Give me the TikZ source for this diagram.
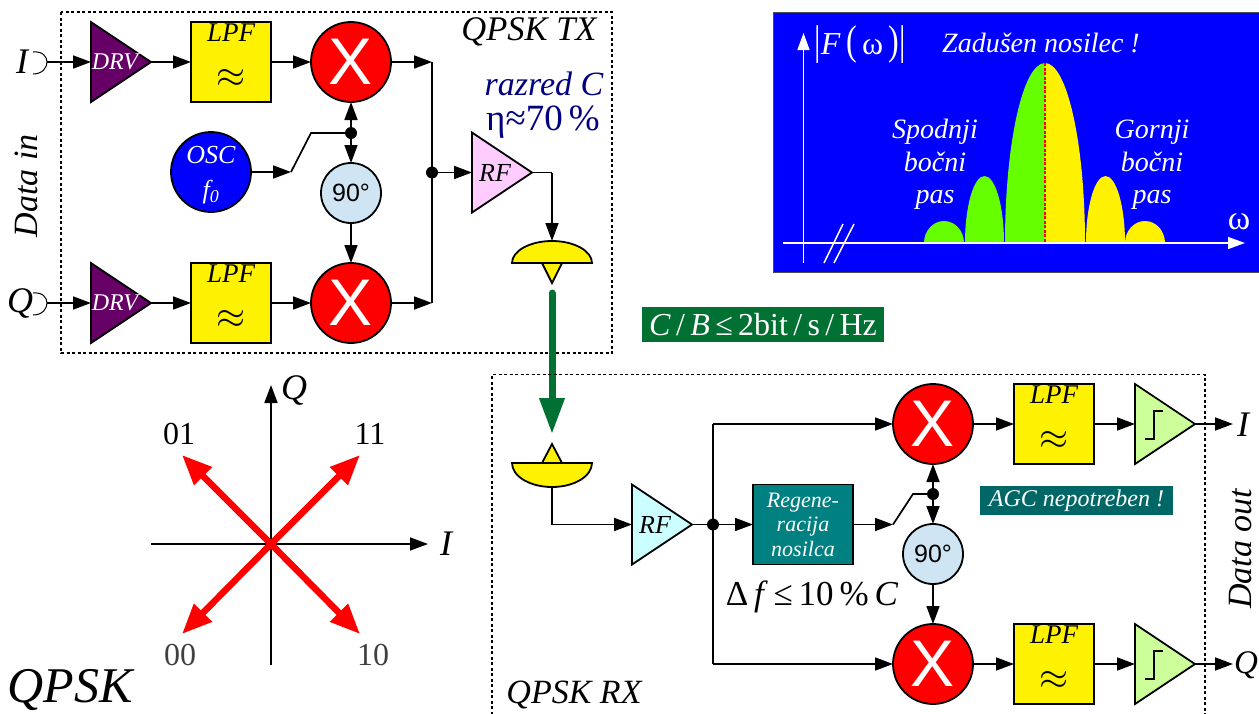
\documentclass[tikz,border=0pt]{standalone}
\usepackage{fontspec}
\setmainfont{Liberation Serif}
\setsansfont{Liberation Sans}
\usetikzlibrary{arrows.meta,shapes.geometric}
\definecolor{drvc}{HTML}{660066}
\definecolor{pinkc}{HTML}{FFCCFF}
\definecolor{cyanc}{HTML}{CCFFFF}
\definecolor{compc}{HTML}{CCFF99}
\definecolor{phasec}{HTML}{CFE5F3}
\definecolor{regenc}{HTML}{008080}
\definecolor{agcc}{HTML}{006666}
\definecolor{lobeg}{HTML}{66FF00}
\definecolor{chanc}{HTML}{007033}
\definecolor{navyc}{HTML}{000080}
\newcommand{\fs}[1]{\fontsize{#1}{#1}\selectfont}
\newcommand{\tallbar}[1]{\scalebox{1}[1.3]{#1}}
\tikzset{
  x=1pt,y=-1pt,
  outline/.style={draw=black,line width=1.8pt,inner sep=0pt,outer sep=0pt},
  tri/.style={outline,isosceles triangle,isosceles triangle apex angle=60,isosceles triangle stretches=true,
    minimum width=80pt,minimum height=60pt,anchor=lower side},
  lpfbox/.style={outline,fill=yellow,minimum size=80pt},
  mixer/.style={outline,circle,fill=red,minimum size=80pt,text=white,font=\sffamily\fs{66}},
  phase/.style={outline,circle,fill=phasec,minimum size=60pt,font=\sffamily\fs{25}},
  dot/.style={circle,fill=black,inner sep=0pt,minimum size=12pt},
  conn/.style={line width=1.7pt,-{Triangle[length=18pt,width=13pt]}},
  wire/.style={line width=1.7pt},
  dashbox/.style={line width=1.3pt,dash pattern=on 3pt off 2.5pt},
  it/.style={font=\itshape\fs{#1},inner sep=0pt},
  it/.default=26,
  rm/.style={font=\fs{#1},inner sep=0pt},
  redarrow/.style={red,line width=6.5pt,-{Triangle[length=30pt,width=24pt]}},
  spectxt/.style={white,font=\itshape\fs{28},inner sep=0pt,align=center},
  specline/.style={spectxt,anchor=base},
}
\newcommand{\lpf}[3]{%
  \node[lpfbox] (#1) at (#2,#3) {};
  \node[it=27] (#1t) at (#2,#3-29) {LPF};
  \node[inner sep=0pt,font=\fs{24}] (#1s) at (#2,#3+16) {\scalebox{1.5}{\(\approx\)}};
}
\begin{document}
\begin{tikzpicture}
\useasboundingbox (0,0) rectangle (1259,713);
\clip (0,0) rectangle (1259,713);

% --- TX ---
\draw[dashbox] (61,12) rectangle (612,353);
\coordinate (inI) at (47,62);
\coordinate (inQ) at (47,303);
\draw[line width=1pt] (33,52) .. controls (43,51) and (47,57) .. (inI) .. controls (47,67) and (43,74) .. (33,74);
\draw[line width=1pt] (33,293) .. controls (43,292) and (47,298) .. (inQ) .. controls (47,308) and (43,315) .. (33,315);
\node[it=36] (tI) at (22,62) {I};
\node[it=36] (tQ) at (20,303) {Q};
\node[it=34,rotate=90] (datain) at (26,186) {Data in};

\node[tri,fill=drvc] (drv1) at (91,62) {};
\node[it=24,text=white] (drv1t) at (115,62) {DRV};
\node[tri,fill=drvc] (drv2) at (91,303) {};
\node[it=24,text=white] (drv2t) at (115,303) {DRV};
\lpf{lpf1}{231}{62}
\lpf{lpf2}{231}{303}
\node[mixer] (mx1) at (351,62) {X};
\node[mixer] (mx2) at (351,303) {X};
\node[outline,circle,fill=blue,minimum size=80pt] (osc) at (211,172) {};
\node[it=26,text=white] (osct) at (211,155) {OSC};
\node[it=26,text=white] (osct2) at (211,192) {f\textsubscript{\fs{18}0}};
\node[phase] (ph1) at (351,193) {90°};
\node[dot] (j1) at (351,133) {};
\coordinate (k1) at (291,172);
\coordinate (k2) at (311,133);
\draw[conn] (inI) -- (drv1.lower side);
\draw[conn] (inQ) -- (drv2.lower side);
\draw[conn] (drv1.apex) -- (lpf1.west);
\draw[conn] (drv2.apex) -- (lpf2.west);
\draw[conn] (lpf1.east) -- (mx1.west);
\draw[conn] (lpf2.east) -- (mx2.west);
\draw[conn] (osc.east) -- (k1);
\draw[wire] (k1) -- (k2) -- (j1.center);
\draw[conn] (j1.center) -- (mx1.south);
\draw[conn] (j1.center) -- (ph1.north);
\draw[conn] (ph1.south) -- (mx2.north);

\coordinate (sum1) at (432,62);
\coordinate (sum2) at (432,303);
\node[dot] (j2) at (432,172.5) {};
\draw[conn] (mx1.east) -- (sum1);
\draw[conn] (mx2.east) -- (sum2);
\draw[wire] (sum1) -- (sum2);
\node[tri,fill=pinkc] (rf1) at (472,172.5) {};
\node[it=26] (rf1t) at (495,173) {RF};
\draw[conn] (j2.center) -- (rf1.lower side);
\coordinate (ant1) at (552,241);
\coordinate (c1) at (552,172.5);
\draw[wire] (rf1.apex) -- (c1);
\draw[outline,fill=yellow] (542,263) -- (562,263) -- (552,283) -- cycle;
\draw[outline,fill=yellow] (512,263) arc[start angle=180,end angle=0,x radius=40pt,y radius=22pt] -- cycle;
\draw[conn] (c1) -- (ant1);
\node[it=34.5] (qtx) at (529,32) {QPSK TX};
\node[it=34,text=navyc] (razred) at (544,84) {razred C};
\node[rm=37,text=navyc] (eta) at (543,122) {η≈70\,\%};

% --- channel ---
\coordinate (ch1) at (552,293);
\coordinate (ch2) at (552,434);
\draw[chanc,line width=7pt,line cap=round,-{Triangle[length=36pt,width=24pt]}] (ch1) -- (ch2);
\node[fill=chanc,text=white,font=\fs{32},inner sep=0pt,minimum width=242pt,minimum height=35pt] (cb) at (763,324.5) {\textit{C}\,/\,\textit{B}\,≤\,2bit\,/\,s\,/\,Hz};

% --- spectrum ---
\fill[blue] (773,12) rectangle (1262,272);
\draw[line width=1pt,black!70] (1262,272) -- (773,272) -- (773,12) -- (1262,12);
\fill[lobeg] (924,243) arc[start angle=180,end angle=0,x radius=20pt,y radius=22pt] -- cycle;
\fill[lobeg] (965,243) arc[start angle=180,end angle=0,x radius=19.5pt,y radius=67pt] -- cycle;
\fill[lobeg] (1005,243) arc[start angle=180,end angle=90,x radius=40pt,y radius=180pt] -- (1045,243) -- cycle;
\fill[yellow] (1085,243) arc[start angle=0,end angle=90,x radius=40pt,y radius=180pt] -- (1045,243) -- cycle;
\fill[yellow] (1086,243) arc[start angle=180,end angle=0,x radius=19.5pt,y radius=67pt] -- cycle;
\fill[yellow] (1125,243) arc[start angle=180,end angle=0,x radius=20pt,y radius=22pt] -- cycle;
\coordinate (cm1) at (1045,63);
\coordinate (cm2) at (1045,243);
\draw[red,line width=1.3pt,dash pattern=on 3pt off 1.5pt] (cm1) -- (cm2);
\coordinate (ya) at (803.5,263);
\coordinate (yb) at (803.5,33);
\coordinate (xa) at (783,243);
\coordinate (xb) at (1245,243);
\draw[white,line width=1.5pt,-{Triangle[length=17pt,width=12pt]}] (ya) -- (yb);
\draw[white,line width=1.5pt,-{Triangle[length=17pt,width=12pt]}] (xa) -- (xb);
\draw[white,line width=1.5pt] (824,263) -- (843,224);
\draw[white,line width=1.5pt] (834,263) -- (854,224);
\node[white,font=\fs{32},inner sep=0pt] (ft) at (860,45) {\tallbar{|}\textit{F}\,\tallbar{(}\,ω\,\tallbar{)}\tallbar{|}};
\node[spectxt] (zad) at (1041,43) {Zadušen nosilec !};
\node[specline] (sp1) at (935,138) {Spodnji};
\node[specline] (sp2) at (935,171) {bočni};
\node[specline] (sp3) at (935,203) {pas};
\node[specline] (go1) at (1152,138) {Gornji};
\node[specline] (go2) at (1152,171) {bočni};
\node[specline] (go3) at (1152,203) {pas};
\node[white,font=\fs{34},inner sep=0pt] (om) at (1239,222) {ω};

% --- constellation ---
\coordinate (cx1) at (151,544);
\coordinate (cx2) at (428,544);
\coordinate (cy1) at (271,665);
\coordinate (cy2) at (271,385);
\coordinate (o) at (271,544);
\coordinate (p01) at (182,455);
\coordinate (p11) at (360,455);
\coordinate (p00) at (182,634);
\coordinate (p10) at (360,634);
\draw[conn] (cx1) -- (cx2);
\draw[conn] (cy1) -- (cy2);
\draw[redarrow] (o) -- (p01);
\draw[redarrow] (o) -- (p11);
\draw[redarrow] (o) -- (p00);
\draw[redarrow] (o) -- (p10);
\node[it=36] (cQ) at (294,390) {Q};
\node[it=36] (cI) at (446,544) {I};
\node[rm=32] (l01) at (179,434) {01};
\node[rm=32] (l11) at (370,434) {11};
\node[rm=32,text=black!75] (l00) at (180,655) {00};
\node[rm=32,text=black!75] (l10) at (373,655) {10};
\node[it=50] (qpsk) at (70,690) {QPSK};

% --- RX ---
\draw[dashbox] (492,720) -- (492,374.5) -- (1205,374.5) -- (1205,720);
\node[it=34] (qrx) at (574,695) {QPSK RX};
\draw[outline,fill=yellow] (542,463) -- (562,463) -- (552,444) -- cycle;
\draw[outline,fill=yellow] (512,463) arc[start angle=180,end angle=360,x radius=40pt,y radius=24pt] -- cycle;
\coordinate (ant2) at (552,487);
\coordinate (c2) at (552,524.5);
\node[tri,fill=cyanc] (rf2) at (632,524.5) {};
\node[it=26] (rf2t) at (655,525) {RF};
\draw[wire] (ant2) -- (c2);
\draw[conn] (c2) -- (rf2.lower side);
\node[dot] (j3) at (713,524.5) {};
\draw[wire] (rf2.apex) -- (j3.center);
\node[outline,fill=regenc,minimum width=100pt,minimum height=80pt,text=white,font=\itshape\fs{22},align=center] (regen) at (803,524.5) {Regene-\\[2.5pt]racija\\[2.5pt]nosilca};
\draw[conn] (j3.center) -- (regen.west);
\node[mixer] (mx3) at (933,424) {X};
\node[mixer] (mx4) at (933,664) {X};
\node[phase] (ph2) at (933,554) {90°};
\node[dot] (j4) at (933,494) {};
\coordinate (k3) at (893,524.5);
\coordinate (k4) at (913,494);
\draw[conn] (regen.east) -- (k3);
\draw[wire] (k3) -- (k4) -- (j4.center);
\draw[conn] (j4.center) -- (mx3.south);
\draw[conn] (j4.center) -- (ph2.north);
\draw[conn] (ph2.south) -- (mx4.north);
\coordinate (b1) at (713,424);
\coordinate (b2) at (713,664);
\draw[wire] (b1) -- (b2);
\draw[conn] (b1) -- (mx3.west);
\draw[conn] (b2) -- (mx4.west);
\lpf{lpf3}{1054}{424}
\lpf{lpf4}{1054}{664}
\draw[conn] (mx3.east) -- (lpf3.west);
\draw[conn] (mx4.east) -- (lpf4.west);
\node[tri,fill=compc] (cmp1) at (1135,424) {};
\node[tri,fill=compc] (cmp2) at (1135,664) {};
\draw[line width=2pt] (1145,439) -- (1154,439) -- (1154,411) -- (1163,411);
\draw[line width=2pt] (1145,679) -- (1154,679) -- (1154,651) -- (1163,651);
\draw[conn] (lpf3.east) -- (cmp1.lower side);
\draw[conn] (lpf4.east) -- (cmp2.lower side);
\coordinate (outI) at (1233,424);
\coordinate (outQ) at (1233,664);
\draw[conn] (cmp1.apex) -- (outI);
\draw[conn] (cmp2.apex) -- (outQ);
\node[it=36] (oI) at (1243,425) {I};
\node[it=33,anchor=west] (oQ) at (1234,665) {Q};
\node[it=34,rotate=90] (dataout) at (1241,549) {Data out};
\node[fill=agcc,text=white,font=\itshape\fs{24},inner sep=0pt,minimum width=193pt,minimum height=29pt] (agc) at (1076.5,500.5) {\raisebox{-3pt}{AGC nepotreben !}};
\node[rm=35] (df) at (812,597) {Δ\,\textit{f}\,≤\,10\,\%\,\textit{C}};
\end{tikzpicture}
\end{document}
